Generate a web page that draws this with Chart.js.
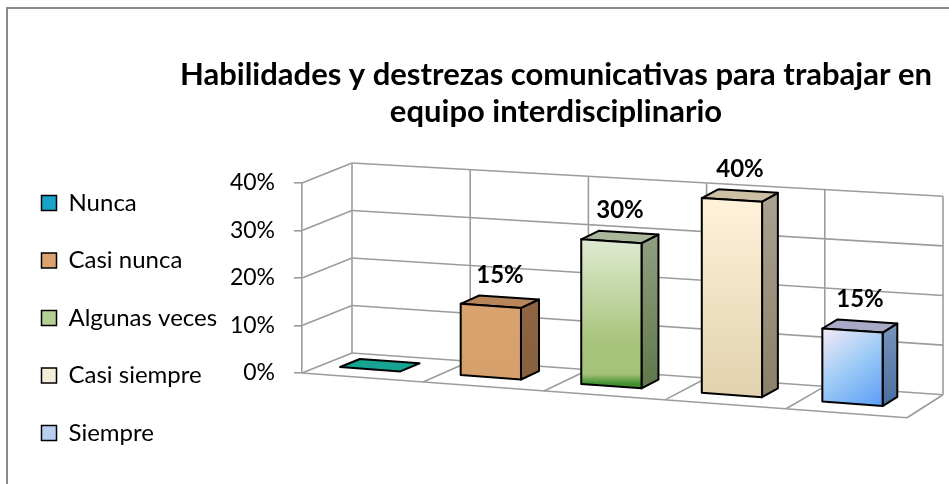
<!DOCTYPE html>
<html>
<head>
<meta charset="utf-8">
<title>Habilidades y destrezas comunicativas</title>
<script src="https://cdn.jsdelivr.net/npm/chart.js@4.4.1/dist/chart.umd.min.js"></script>
<style>
  html, body { margin: 0; padding: 0; background: #fff; }
  #chart { display: block; }
</style>
</head>
<body>
<canvas id="chart" width="949" height="484"></canvas>
<script>
// data
const categories = ['Nunca', 'Casi nunca', 'Algunas veces', 'Casi siempre', 'Siempre'];
const percentages = [0, 15, 30, 40, 15];
const yTicks = [0, 10, 20, 30, 40];
const titleLines = ['Habilidades y destrezas comunicativas para trabajar en', 'equipo interdisciplinario'];

// colours
const legendColors = ['#1AA3C8', '#D9A26F', '#B3CF94', '#F6EDD8', '#B9CFF0'];
const barStyles = [
  { front: ['#17A392', '#17A392'], side: ['#0E7468', '#0E7468'], top: '#17A392' },
  { front: ['#D9A26F', '#D6A06C'], side: ['#8E6441', '#86603F'], top: '#B9865C' },
  { front: ['#DFEAD2', '#A9C57D', '#A4C279', '#3F8F2F'], side: ['#8D9E7E', '#5F7749'], top: '#A9B89B' },
  { front: ['#FFF2DA', '#E2D2AF'], side: ['#A9A08F', '#8A7F68'], top: '#CCBFA3' },
  { front: ['#F4EAF6', '#9CCAF6', '#5A9CF6'], side: ['#7290B8', '#4A6E9F'], top: '#A7A9C6' }
];
const GRID_COLOR = '#9C9C9C';

// geometry of the fake 3d frame
const SKEW_FLOOR = 0.074, SKEW_TOP = 0.06;
const DEPTH_DX = [50, 36], DEPTH_DY = [-20, -23];
const BAR_DEPTH = [0.16, 0.56];
const BAR_LIFT = 5;
const LAYOUT = { padLeft: 8, padRight: 42, padBottom: 5.5, plotLeft: 302, floorBand: 105.5, titleCenter: 556 };

function proj(chart, x, y, d) {
  const a = chart.chartArea;
  const t = (x - a.left) / (a.right - a.left);
  const f = (a.bottom - y) / (a.bottom - a.top);
  const slope = SKEW_FLOOR + (SKEW_TOP - SKEW_FLOOR) * f;
  return [
    x + d * (DEPTH_DX[0] + (DEPTH_DX[1] - DEPTH_DX[0]) * t),
    y + slope * (x - a.left) + d * (DEPTH_DY[0] + (DEPTH_DY[1] - DEPTH_DY[0]) * t)
  ];
}

function line(ctx, p, q) {
  ctx.beginPath();
  ctx.moveTo(p[0], p[1]);
  ctx.lineTo(q[0], q[1]);
  ctx.stroke();
}

function grad(ctx, p, q, colors) {
  const g = ctx.createLinearGradient(p[0], p[1], q[0], q[1]);
  colors.forEach((c, i) => {
    let stop = i / (colors.length - 1);
    if (colors.length === 4) stop = [0, 0.7, 0.93, 1][i];
    g.addColorStop(stop, c);
  });
  return g;
}

function face(ctx, pts, fill) {
  ctx.beginPath();
  ctx.moveTo(pts[0][0], pts[0][1]);
  pts.slice(1).forEach(p => ctx.lineTo(p[0], p[1]));
  ctx.closePath();
  ctx.fillStyle = fill;
  ctx.fill();
  ctx.stroke();
}

const frame3d = {
  id: 'frame3d',
  afterLayout(chart) {
    const tb = chart.titleBlock;
    if (tb) {
      tb.right = chart.width;
      tb.left = 2 * LAYOUT.titleCenter - tb.right;
    }
  },
  beforeDraw(chart) {
    const ctx = chart.ctx;
    ctx.save();
    ctx.strokeStyle = '#8A8A8A';
    ctx.lineWidth = 2;
    ctx.strokeRect(7, 8, chart.width + 20, chart.height + 20);
    ctx.restore();
  },
  beforeDatasetsDraw(chart) {
    const ctx = chart.ctx, a = chart.chartArea;
    const ys = chart.scales.y, xs = chart.scales.x;
    ctx.save();
    ctx.strokeStyle = GRID_COLOR;
    ctx.lineWidth = 1.6;
    yTicks.forEach(v => {
      const yp = ys.getPixelForValue(v);
      line(ctx, proj(chart, a.left, yp, 1), proj(chart, a.right, yp, 1));
      line(ctx, proj(chart, a.left, yp, 0), proj(chart, a.left, yp, 1));
    });
    const bounds = [a.left];
    for (let i = 1; i < categories.length; i++) {
      bounds.push((xs.getPixelForValue(i - 1) + xs.getPixelForValue(i)) / 2);
    }
    bounds.push(a.right);
    bounds.forEach((bx, k) => {
      line(ctx, proj(chart, bx, a.bottom, 1), proj(chart, bx, a.top, 1));
      if (k > 0) line(ctx, proj(chart, bx, a.bottom, 0), proj(chart, bx, a.bottom, 1));
    });
    line(ctx, proj(chart, a.left, a.bottom, 0), proj(chart, a.right, a.bottom, 0));
    ctx.restore();
  },
  afterDatasetsDraw(chart) {
    const ctx = chart.ctx;
    const meta = chart.getDatasetMeta(0);
    const [d0, d1] = BAR_DEPTH;
    ctx.save();
    ctx.strokeStyle = '#000';
    ctx.lineWidth = 2;
    ctx.lineJoin = 'round';
    meta.data.forEach((el, i) => {
      const st = barStyles[i];
      const x0 = el.x - el.width / 2, x1 = el.x + el.width / 2;
      const yt = el.y, yb = el.base;
      const P = (x, y, d) => {
        const p = proj(chart, x, y, d);
        return [p[0], p[1] - BAR_LIFT];
      };
      const topFace = [P(x0, yt, d0), P(x1, yt, d0), P(x1, yt, d1), P(x0, yt, d1)];
      if (yb - yt > 1) {
        const side = [P(x1, yt, d0), P(x1, yt, d1), P(x1, yb, d1), P(x1, yb, d0)];
        face(ctx, side, grad(ctx, P(x1, yt, d0), P(x1, yb, d0), st.side));
        face(ctx, topFace, st.top);
        const front = [P(x0, yt, d0), P(x1, yt, d0), P(x1, yb, d0), P(x0, yb, d0)];
        const diag = i === 4;
        const gEnd = diag ? P(x1, yb, d0) : P(x0, yb, d0);
        face(ctx, front, grad(ctx, P(x0, yt, d0), gEnd, st.front));
      } else {
        face(ctx, topFace, st.top);
      }
      if (percentages[i] > 0) {
        const lp = P(el.x, yt, d1);
        const cx = P(el.x, yt, (d0 + d1) / 2)[0];
        ctx.fillStyle = '#000';
        ctx.font = 'bold 24px Lato';
        ctx.textAlign = 'center';
        ctx.textBaseline = 'middle';
        ctx.fillText(percentages[i] + '%', cx, lp[1] - 22);
      }
    });
    ctx.restore();
  }
};

new Chart(document.getElementById('chart'), {
  type: 'bar',
  data: {
    labels: categories,
    datasets: [{
      data: percentages,
      backgroundColor: 'rgba(0,0,0,0)',
      borderWidth: 0,
      barPercentage: 0.5,
      categoryPercentage: 1
    }]
  },
  options: {
    responsive: false,
    animation: false,
    devicePixelRatio: 1,
    layout: { padding: { left: LAYOUT.padLeft, right: LAYOUT.padRight, top: 0, bottom: LAYOUT.padBottom } },
    plugins: {
      tooltip: { enabled: false },
      title: {
        display: true,
        text: titleLines,
        color: '#000',
        font: { family: 'Lato', size: 31, weight: 'bold', lineHeight: 37 / 31 },
        padding: { top: 56.5, bottom: 52.5 }
      },
      legend: {
        display: true,
        position: 'left',
        align: 'end',
        fullSize: true,
        labels: {
          color: '#000',
          font: { family: 'Lato', size: 24 },
          boxWidth: 15,
          boxHeight: 15,
          padding: 33.5,
          generateLabels: () => categories.map((c, i) => ({
            text: c,
            fillStyle: legendColors[i],
            strokeStyle: '#000',
            lineWidth: 1.5,
            hidden: false,
            index: i,
            datasetIndex: 0
          }))
        }
      }
    },
    scales: {
      x: {
        ticks: { display: false },
        grid: { display: false },
        border: { display: false },
        afterFit: s => { s.height = LAYOUT.floorBand; }
      },
      y: {
        min: yTicks[0],
        max: yTicks[yTicks.length - 1],
        ticks: {
          stepSize: 10,
          color: '#000',
          padding: 19,
          font: { family: 'Lato', size: 23 },
          callback: v => v + '%'
        },
        grid: { drawOnChartArea: false, drawTicks: true, tickLength: 8, color: GRID_COLOR, lineWidth: 1.6 },
        border: { display: true, color: GRID_COLOR, width: 1.6 },
        afterFit: s => {
          const lg = s.chart.legend;
          s.width = LAYOUT.plotLeft - LAYOUT.padLeft - (lg ? lg.width : 0);
        }
      }
    }
  },
  plugins: [frame3d]
});
</script>
</body>
</html>
